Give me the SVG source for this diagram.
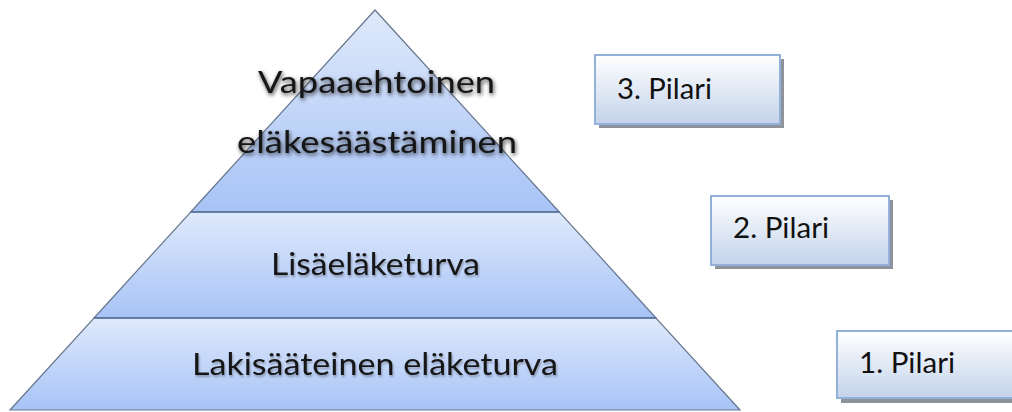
<svg xmlns="http://www.w3.org/2000/svg" width="1012" height="412" viewBox="0 0 1012 412">
  <defs>
    <linearGradient id="gPyr" x1="0" y1="0" x2="0" y2="1">
      <stop offset="0" stop-color="#dfe9fb"/>
      <stop offset="1" stop-color="#a7c3f6"/>
    </linearGradient>
    <linearGradient id="gBox" x1="0" y1="0" x2="0" y2="1">
      <stop offset="0" stop-color="#ffffff"/>
      <stop offset="1" stop-color="#c3d3ea"/>
    </linearGradient>
    <filter id="glow" x="-10%" y="-30%" width="120%" height="160%">
      <feGaussianBlur in="SourceAlpha" stdDeviation="2.2" result="b"/>
      <feOffset in="b" dx="1" dy="2" result="o"/>
      <feComponentTransfer in="o" result="s"><feFuncA type="linear" slope="0.75"/></feComponentTransfer>
      <feMerge><feMergeNode in="s"/><feMergeNode in="SourceGraphic"/></feMerge>
    </filter>
    <filter id="soft" x="-10%" y="-30%" width="120%" height="160%">
      <feGaussianBlur in="SourceAlpha" stdDeviation="1.2" result="b"/>
      <feOffset in="b" dx="1" dy="1.5" result="o"/>
      <feComponentTransfer in="o" result="s"><feFuncA type="linear" slope="0.3"/></feComponentTransfer>
      <feMerge><feMergeNode in="s"/><feMergeNode in="SourceGraphic"/></feMerge>
    </filter>
  </defs>
  <style>
    .lvl { fill: url(#gPyr); stroke: #66758c; stroke-width: 1.2; }
    .sep { stroke: #56709c; stroke-width: 1.6; }
    .ptxt { font-family: Lato, "Liberation Sans", sans-serif; font-size: 31px; fill: #141414; }
    .shadow { fill: #8d929b; }
    .box { fill: url(#gBox); stroke: #93b1d8; stroke-width: 2; }
    .btxt { font-family: Lato, "Liberation Sans", sans-serif; font-size: 29px; fill: #111111; }
  </style>

  <g id="level-3">
    <polygon class="lvl" points="375,10 559.3,212 190.7,212"/>
    <text class="ptxt" x="258" y="93" textLength="237" lengthAdjust="spacingAndGlyphs" filter="url(#glow)">Vapaaehtoinen</text>
    <text class="ptxt" x="237" y="153" textLength="280" lengthAdjust="spacingAndGlyphs" filter="url(#glow)">eläkesäästäminen</text>
  </g>
  <g id="level-2">
    <polygon class="lvl" points="190.7,212 559.3,212 656,318 94,318"/>
    <text class="ptxt" x="271" y="275" textLength="209" lengthAdjust="spacingAndGlyphs" filter="url(#soft)">Lisäeläketurva</text>
  </g>
  <g id="level-1">
    <polygon class="lvl" points="94,318 656,318 740,410 10,410"/>
    <text class="ptxt" x="192" y="375" textLength="366" lengthAdjust="spacingAndGlyphs" filter="url(#soft)">Lakisääteinen eläketurva</text>
  </g>
  <line class="sep" x1="190.7" y1="212" x2="559.3" y2="212"/>
  <line class="sep" x1="94" y1="318" x2="656" y2="318"/>

  <g id="pilari-3">
    <rect class="shadow" x="599" y="59" width="185" height="69"/>
    <rect class="box" x="595" y="55" width="185" height="69"/>
    <text class="btxt" x="617" y="99" textLength="95" lengthAdjust="spacingAndGlyphs">3. Pilari</text>
  </g>
  <g id="pilari-2">
    <rect class="shadow" x="715" y="200" width="178" height="69"/>
    <rect class="box" x="711" y="196" width="178" height="69"/>
    <text class="btxt" x="733" y="238" textLength="96" lengthAdjust="spacingAndGlyphs">2. Pilari</text>
  </g>
  <g id="pilari-1">
    <rect class="shadow" x="841" y="335" width="180" height="68"/>
    <rect class="box" x="837" y="331" width="180" height="67"/>
    <text class="btxt" x="859" y="373" textLength="96" lengthAdjust="spacingAndGlyphs">1. Pilari</text>
  </g>

  <g id="connectors"/>
</svg>
